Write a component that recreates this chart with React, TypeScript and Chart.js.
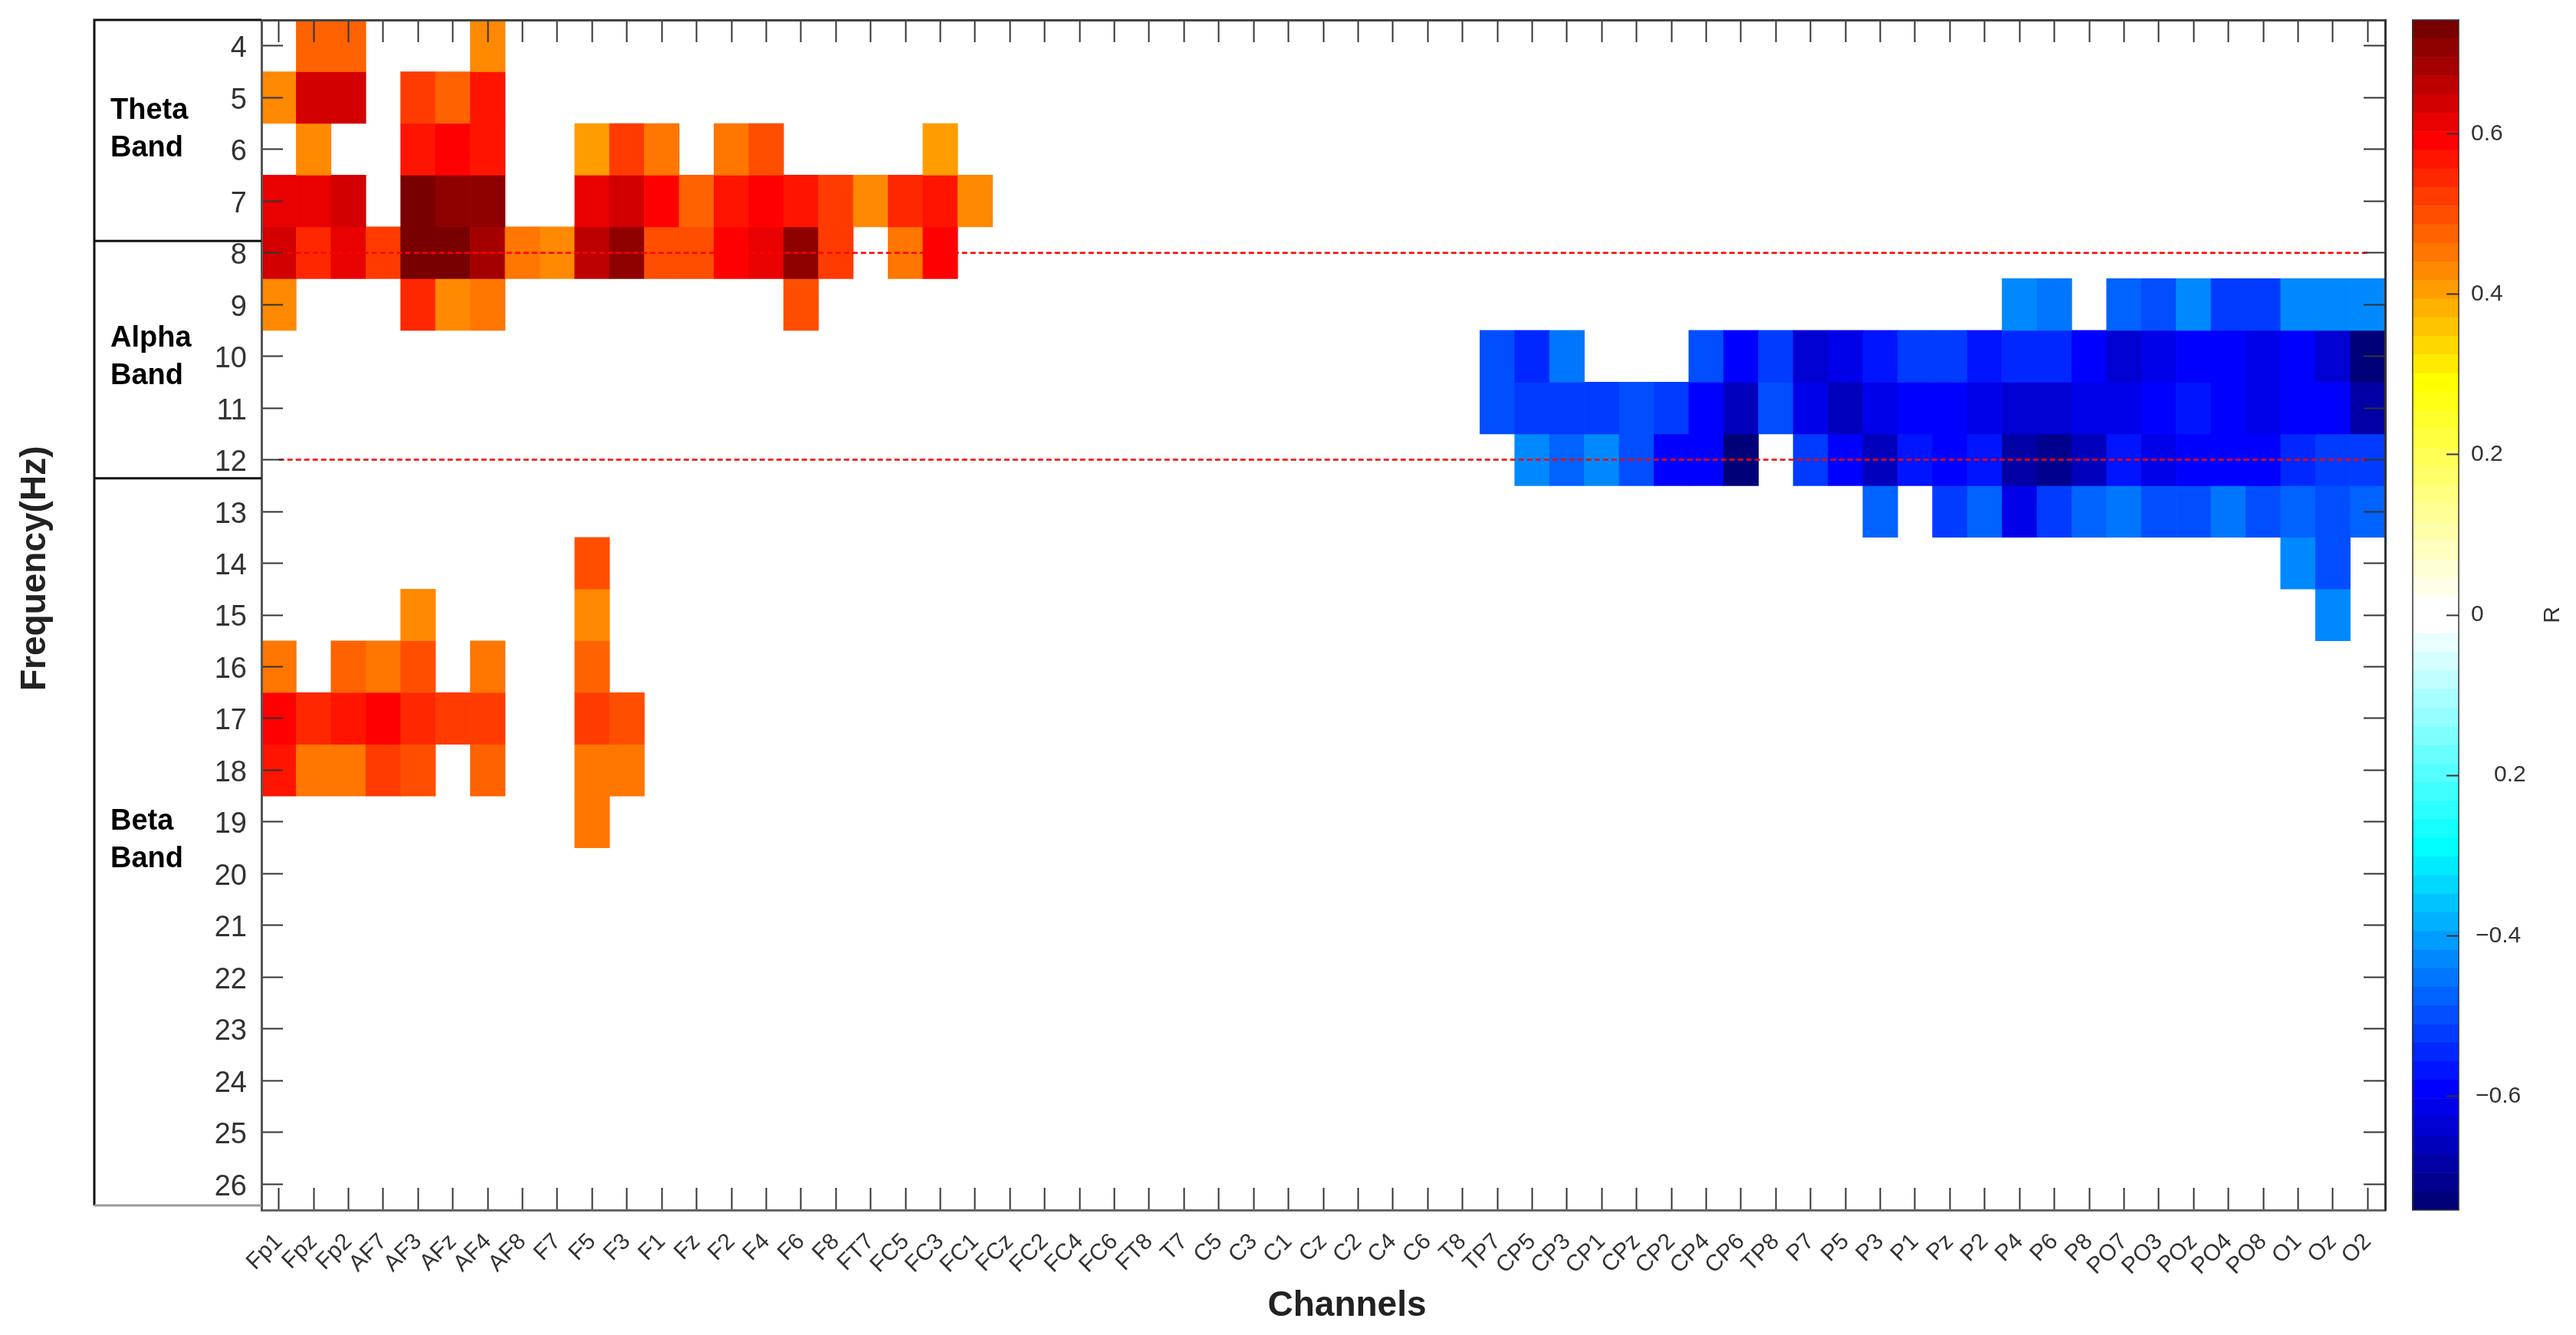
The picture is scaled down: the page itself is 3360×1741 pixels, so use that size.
import { useEffect, useRef } from "react"
import { Chart, registerables } from "chart.js"

Chart.register(...registerables)

const channels = [
  "Fp1", "Fpz", "Fp2", "AF7", "AF3", "AFz", "AF4", "AF8", "F7", "F5", "F3", "F1", "Fz", "F2", "F4", "F6", "F8",
  "FT7", "FC5", "FC3", "FC1", "FCz", "FC2", "FC4", "FC6", "FT8", "T7", "C5", "C3", "C1", "Cz", "C2", "C4", "C6", "T8",
  "TP7", "CP5", "CP3", "CP1", "CPz", "CP2", "CP4", "CP6", "TP8", "P7", "P5", "P3", "P1", "Pz", "P2", "P4", "P6", "P8",
  "PO7", "PO3", "POz", "PO4", "PO8", "O1", "Oz", "O2",
]
const frequencies = [4, 5, 6, 7, 8, 9, 10, 11, 12, 13, 14, 15, 16, 17, 18, 19, 20, 21, 22, 23, 24, 25, 26]

// R values per frequency row, only the significant cells
type Cell = [string, number]
const f4: Cell[] = [["Fpz", 0.475], ["Fp2", 0.475], ["AF4", 0.43]]
const f5: Cell[] = [["Fp1", 0.43], ["Fpz", 0.637], ["Fp2", 0.637], ["AF3", 0.521], ["AFz", 0.475], ["AF4", 0.568]]
const f6: Cell[] = [["Fpz", 0.43], ["AF3", 0.568], ["AFz", 0.591], ["AF4", 0.568], ["F5", 0.406], ["F3", 0.521], ["F1", 0.452], ["F2", 0.452], ["F4", 0.498], ["FC3", 0.406]]
const f7: Cell[] = [
  ["Fp1", 0.614], ["Fpz", 0.614], ["Fp2", 0.637], ["AF3", 0.73], ["AFz", 0.707], ["AF4", 0.707], ["F5", 0.614], ["F3", 0.637],
  ["F1", 0.591], ["Fz", 0.475], ["F2", 0.568], ["F4", 0.591], ["F6", 0.568], ["F8", 0.521], ["FT7", 0.43], ["FC5", 0.545],
  ["FC3", 0.568], ["FC1", 0.43],
]
const f8: Cell[] = [
  ["Fp1", 0.637], ["Fpz", 0.545], ["Fp2", 0.614], ["AF7", 0.521], ["AF3", 0.73], ["AFz", 0.73], ["AF4", 0.684], ["AF8", 0.452],
  ["F7", 0.43], ["F5", 0.661], ["F3", 0.707], ["F1", 0.498], ["Fz", 0.498], ["F2", 0.591], ["F4", 0.614], ["F6", 0.707],
  ["F8", 0.521], ["FC5", 0.452], ["FC3", 0.591],
]
const f9: Cell[] = [
  ["Fp1", 0.43], ["AF3", 0.545], ["AFz", 0.43], ["AF4", 0.452], ["F6", 0.498],
  ["P4", -0.429], ["P6", -0.452], ["PO7", -0.475], ["PO3", -0.498], ["POz", -0.429], ["PO4", -0.521], ["PO8", -0.521],
  ["O1", -0.429], ["Oz", -0.429], ["O2", -0.429],
]
const f10: Cell[] = [
  ["TP7", -0.498], ["CP5", -0.545], ["CP3", -0.452], ["CP4", -0.498], ["CP6", -0.591], ["TP8", -0.521], ["P7", -0.637],
  ["P5", -0.614], ["P3", -0.568], ["P1", -0.521], ["Pz", -0.521], ["P2", -0.568], ["P4", -0.545], ["P6", -0.545], ["P8", -0.591],
  ["PO7", -0.637], ["PO3", -0.614], ["POz", -0.591], ["PO4", -0.591], ["PO8", -0.614], ["O1", -0.591], ["Oz", -0.637], ["O2", -0.73],
]
const f11: Cell[] = [
  ["TP7", -0.498], ["CP5", -0.521], ["CP3", -0.521], ["CP1", -0.521], ["CPz", -0.498], ["CP2", -0.521], ["CP4", -0.591],
  ["CP6", -0.661], ["TP8", -0.498], ["P7", -0.614], ["P5", -0.661], ["P3", -0.614], ["P1", -0.591], ["Pz", -0.591], ["P2", -0.614],
  ["P4", -0.637], ["P6", -0.637], ["P8", -0.614], ["PO7", -0.614], ["PO3", -0.591], ["POz", -0.568], ["PO4", -0.591],
  ["PO8", -0.614], ["O1", -0.591], ["Oz", -0.591], ["O2", -0.684],
]
const f12: Cell[] = [
  ["CP5", -0.429], ["CP3", -0.475], ["CP1", -0.429], ["CPz", -0.498], ["CP2", -0.591], ["CP4", -0.591], ["CP6", -0.73],
  ["P7", -0.521], ["P5", -0.591], ["P3", -0.661], ["P1", -0.568], ["Pz", -0.591], ["P2", -0.568], ["P4", -0.684], ["P6", -0.707],
  ["P8", -0.661], ["PO7", -0.568], ["PO3", -0.614], ["POz", -0.591], ["PO4", -0.591], ["PO8", -0.591], ["O1", -0.545],
  ["Oz", -0.521], ["O2", -0.521],
]
const f13: Cell[] = [
  ["P3", -0.475], ["Pz", -0.521], ["P2", -0.475], ["P4", -0.614], ["P6", -0.521], ["P8", -0.475], ["PO7", -0.452], ["PO3", -0.498],
  ["POz", -0.498], ["PO4", -0.452], ["PO8", -0.498], ["O1", -0.475], ["Oz", -0.498], ["O2", -0.475],
]
const f14: Cell[] = [["F5", 0.498], ["O1", -0.429], ["Oz", -0.498]]
const f15: Cell[] = [["AF3", 0.43], ["F5", 0.43], ["Oz", -0.429]]
const f16: Cell[] = [["Fp1", 0.452], ["Fp2", 0.475], ["AF7", 0.452], ["AF3", 0.498], ["AF4", 0.452], ["F5", 0.475]]
const f17: Cell[] = [["Fp1", 0.591], ["Fpz", 0.545], ["Fp2", 0.568], ["AF7", 0.591], ["AF3", 0.545], ["AFz", 0.521], ["AF4", 0.521], ["F5", 0.521], ["F3", 0.498]]
const f18: Cell[] = [["Fp1", 0.568], ["Fpz", 0.452], ["Fp2", 0.452], ["AF7", 0.521], ["AF3", 0.498], ["AF4", 0.475], ["F5", 0.452], ["F3", 0.452]]
const f19: Cell[] = [["F5", 0.452]]

const rows: [number, Cell[]][] = [
  [4, f4], [5, f5], [6, f6], [7, f7], [8, f8], [9, f9], [10, f10], [11, f11], [12, f12], [13, f13], [14, f14], [15, f15],
  [16, f16], [17, f17], [18, f18], [19, f19],
]

const bandLines = [8, 12]
const bandEdges = [7.77, 12.36]
const bandNames = ["Theta", "Alpha", "Beta"]
const bandLabelAt = [5.25, 9.66, 19.0]

const colorTicks = [0.6, 0.4, 0.2, 0, -0.2, -0.4, -0.6]
const colorTickLabels = ["0.6", "0.4", "0.2", "0", "\u20030.2", "\u2009\u22120.4", "\u2009\u22120.6"]

const R_MAX = 0.742
const LEVELS = 64
const colorStops: [number, number[]][] = [
  [0, [0, 0, 120]],
  [6, [0, 0, 255]],
  [19, [0, 255, 255]],
  [31, [255, 255, 255]],
  [32, [255, 255, 255]],
  [44, [255, 255, 0]],
  [57, [255, 0, 0]],
  [63, [120, 0, 0]],
]

function levelColor(level: number) {
  let i = 0
  while (i < colorStops.length - 2 && level > colorStops[i + 1][0]) i++
  const [a, ca] = colorStops[i]
  const [b, cb] = colorStops[i + 1]
  const t = (level - a) / (b - a)
  const c = ca.map((v, k) => Math.round(v + (cb[k] - v) * t))
  return `rgb(${c[0]}, ${c[1]}, ${c[2]})`
}

function valueColor(r: number) {
  const level = Math.floor(((r + R_MAX) / (2 * R_MAX)) * LEVELS)
  return levelColor(Math.max(0, Math.min(LEVELS - 1, level)))
}

const FONT = "'Liberation Sans', Arial, sans-serif"

// band boxes on the left and the two axis titles
const heatmapLabels = {
  id: "heatmapLabels",
  afterDraw(chart: Chart) {
    const { ctx, chartArea } = chart
    const y = chart.scales.y
    const boxLeft = chartArea.left - 218
    const boxBottom = y.getPixelForValue(26.41)

    ctx.save()
    ctx.strokeStyle = "#111"
    ctx.lineWidth = 3
    ctx.beginPath()
    ctx.moveTo(chartArea.left, chartArea.top)
    ctx.lineTo(boxLeft, chartArea.top)
    ctx.lineTo(boxLeft, boxBottom)
    bandEdges.forEach((edge) => {
      ctx.moveTo(boxLeft, y.getPixelForValue(edge))
      ctx.lineTo(chartArea.left, y.getPixelForValue(edge))
    })
    ctx.stroke()
    ctx.strokeStyle = "#999"
    ctx.beginPath()
    ctx.moveTo(boxLeft, boxBottom)
    ctx.lineTo(chartArea.left, boxBottom)
    ctx.stroke()

    ctx.fillStyle = "#000"
    ctx.font = `bold 38px ${FONT}`
    ctx.textAlign = "left"
    ctx.textBaseline = "middle"
    bandNames.forEach((name, i) => {
      const top = y.getPixelForValue(bandLabelAt[i])
      ctx.fillText(name, boxLeft + 21, top)
      ctx.fillText("Band", boxLeft + 21, top + 49)
    })

    ctx.fillStyle = "#222"
    ctx.font = `bold 46px ${FONT}`
    ctx.textAlign = "center"
    ctx.fillText("Channels", chartArea.left + 1416, 1703)
    ctx.translate(46, y.getPixelForValue(14.1))
    ctx.rotate(-Math.PI / 2)
    ctx.fillText("Frequency(Hz)", 0, 0)
    ctx.restore()
  },
}

const colorbarFrame = {
  id: "colorbarFrame",
  afterDraw(chart: Chart) {
    const { ctx, chartArea } = chart
    ctx.save()
    ctx.strokeStyle = "rgba(50, 50, 50, 0.75)"
    ctx.lineWidth = 2
    ctx.strokeRect(chartArea.left + 1, chartArea.top, chartArea.width - 1, chartArea.height)
    ctx.fillStyle = "#333"
    ctx.font = `30px ${FONT}`
    ctx.textAlign = "center"
    ctx.textBaseline = "middle"
    ctx.translate(chartArea.right + 123, chart.scales.y.getPixelForValue(0))
    ctx.rotate(-Math.PI / 2)
    ctx.fillText("R", 0, 0)
    ctx.restore()
  },
}

const tickGrid = (tickLength: number) => ({
  drawOnChartArea: false,
  offset: false,
  tickLength,
  tickWidth: 2,
  tickColor: "#333",
  z: 1,
})

// the plot box is pinned, so the axes must not ask for room around it
const pinAxis = (size: number) => (scale: any) => {
  if (scale.isHorizontal()) scale.height = size
  else scale.width = size
  scale.paddingTop = 0
  scale.paddingBottom = 0
  scale.paddingLeft = 0
  scale.paddingRight = 0
}

export default function App() {
  const mainRef = useRef<HTMLCanvasElement>(null)
  const barRef = useRef<HTMLCanvasElement>(null)

  useEffect(() => {
    if (!mainRef.current || !barRef.current) return

    const cellDatasets: any[] = rows.map(([freq, cells]) => ({
      type: "bar",
      label: `${freq} Hz`,
      data: cells.map(([channel, r]) => ({ x: channel, y: [freq - 0.5, freq + 0.5], r })),
      backgroundColor: (ctx: any) => (ctx.raw ? valueColor(ctx.raw.r) : "transparent"),
      borderWidth: 0,
      grouped: false,
      barPercentage: 1,
      categoryPercentage: 1,
      order: 2,
    }))
    const lineDatasets: any[] = bandLines.map((value) => ({
      type: "line",
      label: `${value} Hz limit`,
      data: channels.map((channel) => ({ x: channel, y: value })),
      borderColor: "#ff0000",
      borderWidth: 2.5,
      borderDash: [7, 4],
      pointRadius: 0,
      order: 1,
    }))

    const main = new Chart(mainRef.current, {
      type: "bar",
      data: { labels: channels, datasets: [...cellDatasets, ...lineDatasets] },
      plugins: [heatmapLabels],
      options: {
        animation: false,
        responsive: false,
        devicePixelRatio: 1,
        layout: { padding: { top: 26, right: 249, left: 0, bottom: 0 } },
        plugins: { legend: { display: false }, tooltip: { enabled: false } },
        scales: {
          x: {
            type: "category",
            position: "bottom",
            offset: true,
            grid: tickGrid(-29),
            border: { color: "#666", width: 3, z: 1 },
            ticks: {
              autoSkip: false,
              minRotation: 45,
              maxRotation: 45,
              padding: 53,
              color: "#333",
              font: { family: FONT, size: 30 },
            },
            afterFit: pinAxis(163),
          },
          xTop: {
            type: "category",
            axis: "x",
            position: "top",
            offset: true,
            grid: tickGrid(-29),
            border: { color: "#444", width: 3, z: 1 },
            ticks: { display: false },
            afterFit: pinAxis(0),
          },
          y: {
            type: "linear",
            position: "left",
            reverse: true,
            min: 3.5,
            max: 26.5,
            grid: tickGrid(-28),
            border: { color: "#555", width: 3, z: 1 },
            afterBuildTicks: (scale: any) => {
              scale.ticks = frequencies.map((value) => ({ value }))
            },
            ticks: {
              autoSkip: false,
              padding: 47,
              labelOffset: 4,
              color: "#333",
              font: { family: FONT, size: 38 },
              callback: (value: any) => `${value}`,
            },
            afterFit: pinAxis(341),
          },
          yRight: {
            type: "linear",
            axis: "y",
            position: "right",
            reverse: true,
            min: 3.5,
            max: 26.5,
            grid: tickGrid(-28),
            border: { color: "#333", width: 3, z: 1 },
            afterBuildTicks: (scale: any) => {
              scale.ticks = frequencies.map((value) => ({ value }))
            },
            ticks: { display: false },
            afterFit: pinAxis(0),
          },
        },
      },
    } as any)

    // the colorbar is a second small chart, one floating bar per colour level
    const levelStep = (2 * R_MAX) / LEVELS
    const levelDatasets: any[] = Array.from({ length: LEVELS }, (_, level) => ({
      label: `level ${level}`,
      data: [[-R_MAX + level * levelStep, -R_MAX + (level + 1) * levelStep]],
      backgroundColor: levelColor(level),
      borderWidth: 0,
      grouped: false,
      barPercentage: 1,
      categoryPercentage: 1,
    }))

    const colorbar = new Chart(barRef.current, {
      type: "bar",
      data: { labels: ["R"], datasets: levelDatasets },
      plugins: [colorbarFrame],
      options: {
        animation: false,
        responsive: false,
        devicePixelRatio: 1,
        layout: { padding: { top: 26, bottom: 163, left: 0, right: 0 } },
        plugins: { legend: { display: false }, tooltip: { enabled: false } },
        scales: {
          x: { display: false },
          y: {
            position: "right",
            min: -R_MAX,
            max: R_MAX,
            grid: { ...tickGrid(-16), offset: false },
            border: { display: false },
            afterBuildTicks: (scale: any) => {
              scale.ticks = colorTicks.map((value) => ({ value }))
            },
            ticks: {
              autoSkip: false,
              padding: 32,
              color: "#333",
              font: { family: FONT, size: 30 },
              callback: (_value: any, index: number) => colorTickLabels[index],
            },
            afterFit: pinAxis(153),
          },
        },
      },
    } as any)

    return () => {
      main.destroy()
      colorbar.destroy()
    }
  }, [])

  return (
    <div style={{ position: "absolute", left: 0, top: 0, width: 3360, height: 1741, background: "#fff", overflow: "hidden" }}>
      <canvas ref={mainRef} width={3360} height={1741} style={{ position: "absolute", left: 0, top: 0 }} />
      <canvas ref={barRef} width={214} height={1741} style={{ position: "absolute", left: 3146, top: 0 }} />
    </div>
  )
}
